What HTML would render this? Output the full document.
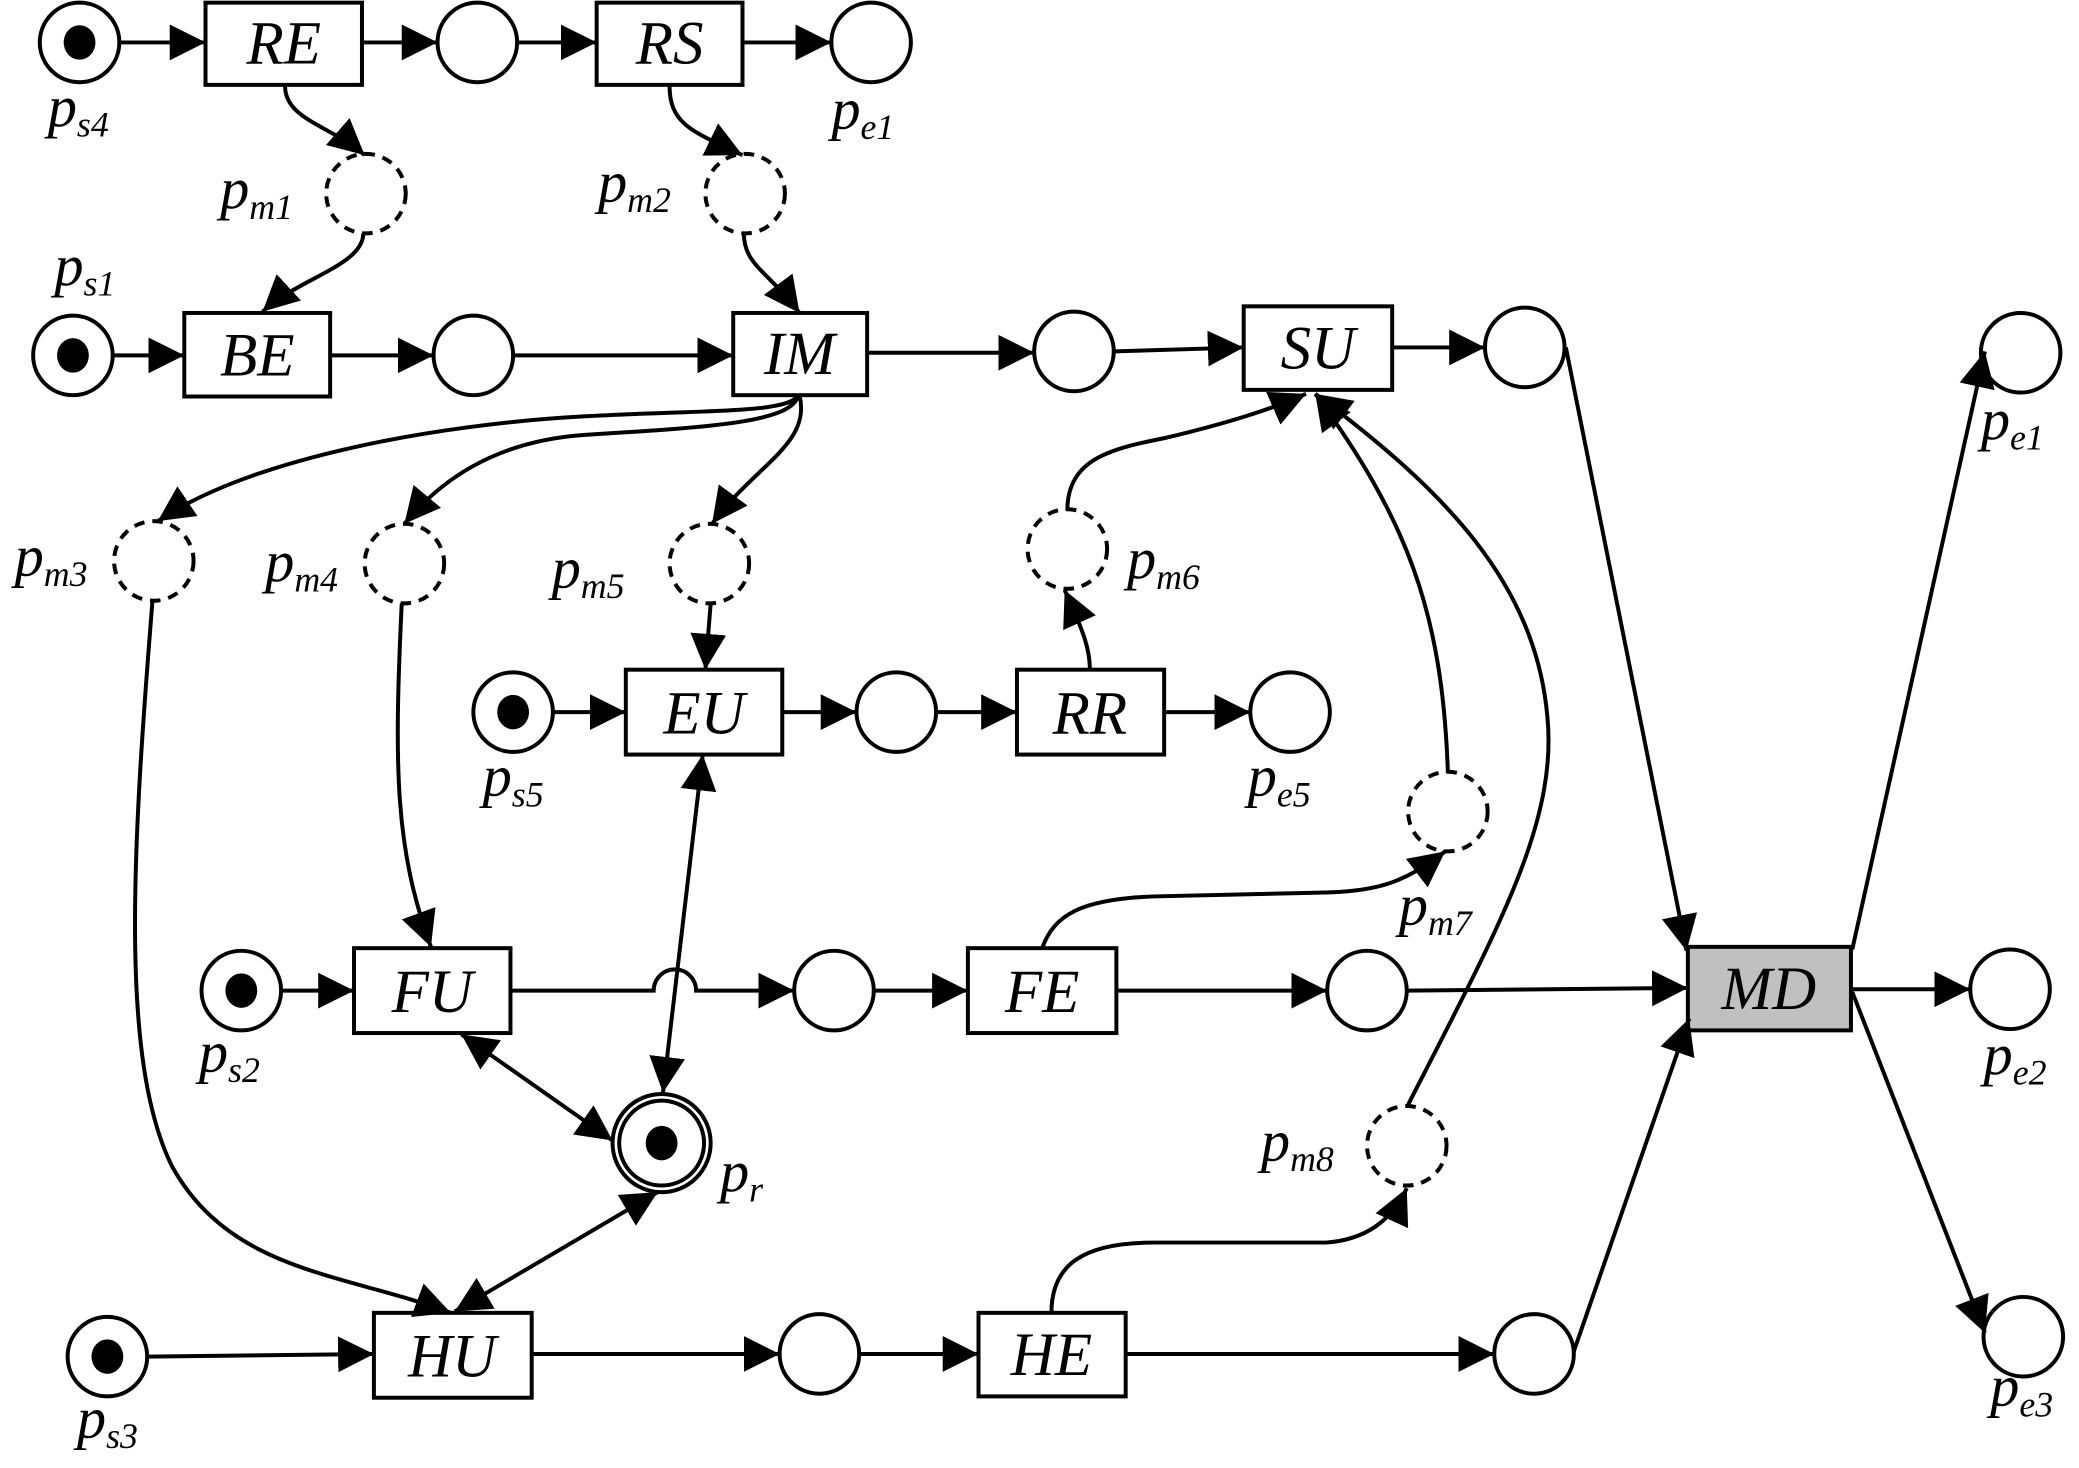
<!DOCTYPE html>
<html><head><meta charset="utf-8"><style>
html,body{margin:0;padding:0;background:#fff}
svg{display:block}
.t{font-family:"Liberation Serif",serif;font-style:italic;font-size:46px;fill:#000}
.l{font-family:"Liberation Serif",serif;font-style:italic;font-size:44px;fill:#000}
.s{font-size:27px}
</style></head><body>
<svg width="2079" height="1468" viewBox="0 0 1568 1107" preserveAspectRatio="none" xmlns="http://www.w3.org/2000/svg">
<defs>
<marker id="a" markerUnits="userSpaceOnUse" markerWidth="30" markerHeight="30" refX="27" refY="13.5" orient="auto-start-reverse">
<path d="M0,0 L27,13.5 L0,27 z" fill="#000"/>
</marker>
</defs>

<!-- places -->
<g fill="#fff" stroke="#000" stroke-width="3">
<circle cx="60" cy="32" r="30"/>
<circle cx="360" cy="32" r="30"/>
<circle cx="657" cy="32" r="30"/>
<circle cx="55" cy="268" r="30"/>
<circle cx="357" cy="268" r="30"/>
<circle cx="810" cy="265" r="30"/>
<circle cx="1150" cy="262" r="30"/>
<circle cx="1524" cy="266" r="30"/>
<circle cx="387" cy="537" r="30"/>
<circle cx="676" cy="537" r="30"/>
<circle cx="973" cy="537" r="30"/>
<circle cx="182" cy="747" r="30"/>
<circle cx="629" cy="747" r="30"/>
<circle cx="1031" cy="747" r="30"/>
<circle cx="1516" cy="746" r="30"/>
<circle cx="81" cy="1023" r="30"/>
<circle cx="618" cy="1021" r="30"/>
<circle cx="1157" cy="1021" r="30"/>
<circle cx="1526" cy="1008" r="30"/>
<circle cx="499" cy="862" r="37"/>
<circle cx="499" cy="862" r="32"/>
</g>
<g fill="none" stroke="#000" stroke-width="3" stroke-dasharray="8 6">
<circle cx="276" cy="146" r="30"/>
<circle cx="562" cy="146" r="30"/>
<circle cx="116" cy="423" r="30"/>
<circle cx="305" cy="425" r="30"/>
<circle cx="535" cy="425" r="30"/>
<circle cx="805" cy="414" r="30"/>
<circle cx="1092" cy="612" r="30"/>
<circle cx="1061" cy="864" r="30"/>
</g>
<!-- tokens -->
<g fill="#000">
<ellipse cx="60" cy="32" rx="12" ry="13"/>
<ellipse cx="55" cy="268" rx="12" ry="13"/>
<ellipse cx="387" cy="537" rx="12" ry="13"/>
<ellipse cx="182" cy="747" rx="12" ry="13"/>
<ellipse cx="81" cy="1023" rx="12" ry="13"/>
<ellipse cx="499" cy="862" rx="12" ry="13"/>
</g>

<!-- transitions -->
<g fill="#fff" stroke="#000" stroke-width="3">
<rect x="155" y="2" width="118" height="62"/>
<rect x="450" y="2" width="110" height="62"/>
<rect x="139" y="236" width="110" height="63"/>
<rect x="553" y="236" width="101" height="62"/>
<rect x="938" y="231" width="112" height="63"/>
<rect x="472" y="505" width="118" height="64"/>
<rect x="767" y="505" width="111" height="64"/>
<rect x="267" y="715" width="118" height="64"/>
<rect x="730" y="715" width="112" height="64"/>
<rect x="282" y="990" width="119" height="64"/>
<rect x="738" y="990" width="111" height="63"/>
<rect x="1273" y="714" width="123" height="63" fill="#c0c0c0"/>
</g>

<!-- connectors -->
<g fill="none" stroke="#000" stroke-width="3" marker-end="url(#a)">
<path d="M90,32 L155,32"/>
<path d="M273,32 L330,32"/>
<path d="M390,32 L450,32"/>
<path d="M560,32 L627,32"/>
<path d="M85,268 L139,268"/>
<path d="M249,268 L327,268"/>
<path d="M387,268 L553,268"/>
<path d="M654,266 L780,266"/>
<path d="M840,265 L938,262"/>
<path d="M1050,262 L1120,262"/>
<path d="M536,455 L532,505"/>
<path d="M417,537 L472,537"/>
<path d="M590,537 L646,537"/>
<path d="M706,537 L767,537"/>
<path d="M878,537 L943,537"/>
<path d="M212,747 L267,747"/>
<path d="M385,747 L493,747 A16,16 0 0 1 525,747 L599,747"/>
<path d="M659,747 L730,747"/>
<path d="M842,747 L1001,747"/>
<path d="M1061,747 L1273,745"/>
<path d="M111,1023 L282,1021"/>
<path d="M401,1021 L588,1021"/>
<path d="M648,1021 L738,1021"/>
<path d="M849,1021 L1127,1021"/>
<path d="M1181,262 L1272,717"/>
<path d="M1187,1019 L1274,768"/>
<path d="M1397,716 L1497,265"/>
<path d="M1396,746 L1486,746"/>
<path d="M1397,748 L1497,1005"/>

<path d="M215,65 C215,90 250,95 275,117"/>
<path d="M274,176 C274,200 225,210 198,235"/>
<path d="M505,65 C505,95 525,100 560,117"/>
<path d="M561,176 C561,200 580,205 603,236"/>
<path d="M602,298 C595,312 530,309 440,314 C330,320 190,345 119,393"/>
<path d="M602,298 C598,318 540,322 440,328 C370,333 330,365 305,395"/>
<path d="M603,298 C612,335 570,350 537,395"/>
<path d="M115,453 C100,640 90,800 130,880 C175,960 260,960 340,990"/>
<path d="M303,455 C297,580 298,640 325,714"/>
<path d="M822,505 C822,490 818,478 803,445"/>
<path d="M805,385 C805,345 840,338 880,330 C930,318 960,308 985,297"/>
<path d="M1092,583 C1088,460 1060,390 992,297"/>
<path d="M1061,835 C1130,700 1175,620 1167,540 C1158,440 1090,370 992,297"/>
<path d="M786,715 C795,690 815,678 870,676 L1000,673 C1040,672 1060,665 1090,642"/>
<path d="M793,990 C793,955 815,937 870,937 L1000,937 C1030,935 1050,920 1061,896"/>

<path d="M530,569 L500,824" marker-start="url(#a)"/>
<path d="M348,780 L462,860" marker-start="url(#a)"/>
<path d="M343,989 L496,899" marker-start="url(#a)"/>
</g>

<!-- transition labels -->
<g class="t" text-anchor="middle">
<text x="214" y="48">RE</text>
<text x="505" y="48">RS</text>
<text x="194" y="283">BE</text>
<text x="603" y="282">IM</text>
<text x="994" y="278">SU</text>
<text x="531" y="553">EU</text>
<text x="822" y="553">RR</text>
<text x="326" y="763">FU</text>
<text x="786" y="763">FE</text>
<text x="341" y="1038">HU</text>
<text x="793" y="1037">HE</text>
<text x="1334" y="761">MD</text>
</g>

<!-- place labels -->
<g class="l">
<text x="36" y="95">p<tspan class="s" dy="8">s4</tspan></text>
<text x="627" y="97">p<tspan class="s" dy="8">e1</tspan></text>
<text x="166" y="157">p<tspan class="s" dy="8">m1</tspan></text>
<text x="451" y="152">p<tspan class="s" dy="8">m2</tspan></text>
<text x="41" y="215">p<tspan class="s" dy="8">s1</tspan></text>
<text x="11" y="434">p<tspan class="s" dy="8">m3</tspan></text>
<text x="200" y="438">p<tspan class="s" dy="8">m4</tspan></text>
<text x="416" y="443">p<tspan class="s" dy="8">m5</tspan></text>
<text x="364" y="600">p<tspan class="s" dy="8">s5</tspan></text>
<text x="941" y="600">p<tspan class="s" dy="8">e5</tspan></text>
<text x="850" y="436">p<tspan class="s" dy="8">m6</tspan></text>
<text x="1055" y="697">p<tspan class="s" dy="8">m7</tspan></text>
<text x="951" y="875">p<tspan class="s" dy="8">m8</tspan></text>
<text x="150" y="808">p<tspan class="s" dy="8">s2</tspan></text>
<text x="543" y="898">p<tspan class="s" dy="8">r</tspan></text>
<text x="58" y="1084">p<tspan class="s" dy="8">s3</tspan></text>
<text x="1494" y="331">p<tspan class="s" dy="8">e1</tspan></text>
<text x="1496" y="810">p<tspan class="s" dy="8">e2</tspan></text>
<text x="1501" y="1060">p<tspan class="s" dy="8">e3</tspan></text>
</g>
</svg>
</body></html>
